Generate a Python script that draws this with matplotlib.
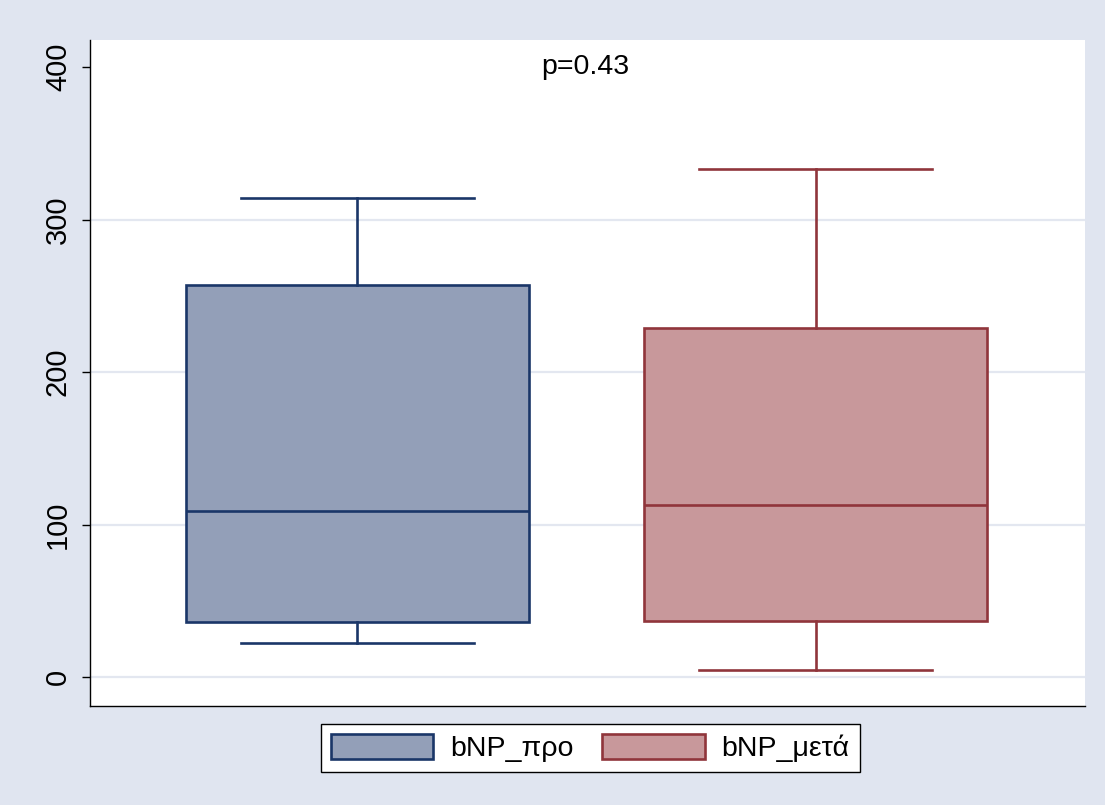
import matplotlib
matplotlib.use("Agg")
import matplotlib.pyplot as plt
from matplotlib.patches import Patch

plt.rcParams['font.family'] = ['Liberation Sans', 'DejaVu Sans']

# box statistics
labels = ["bNP_προ", "bNP_μετά"]
whislo = [22, 4.5]
q1 = [36, 37]
med = [109, 113]
q3 = [257, 229]
whishi = [314, 333]
p_text = "p=0.43"

fills = ["#939fb8", "#c8989b"]
edges = ["#1a3668", "#90353b"]
bg = "#e0e5f0"
lw = 1.9

fig = plt.figure(figsize=(11.05, 8.05), dpi=100, facecolor=bg)
ax = fig.add_axes([0.0814, 0.123, 0.9005, 0.8273])
ax.set_facecolor("white")

for i in range(len(labels)):
    st = dict(label=labels[i], whislo=whislo[i], q1=q1[i], med=med[i],
              q3=q3[i], whishi=whishi[i], fliers=[])
    ax.bxp([st], positions=[i + 1], widths=0.749, capwidths=0.507,
           showfliers=False, patch_artist=True,
           boxprops=dict(facecolor=fills[i], edgecolor=edges[i], linewidth=lw),
           medianprops=dict(color=edges[i], linewidth=lw),
           whiskerprops=dict(color=edges[i], linewidth=lw),
           capprops=dict(color=edges[i], linewidth=lw), zorder=3)

ax.set_xlim(0.416, 2.588)
ax.set_ylim(-19, 417.7)
ax.set_xticks([])
ax.set_yticks([0, 100, 200, 300, 400])
ax.tick_params(axis="y", labelsize=21, length=6, width=1, pad=7,
               labelrotation=90, color="black")
for t in ax.get_yticklabels():
    t.set_va("center")
for y in [0, 100, 200, 300]:
    ax.axhline(y, color="#e3e7f0", linewidth=1.6, zorder=1)

for s in ["top", "right"]:
    ax.spines[s].set_visible(False)
for s in ["left", "bottom"]:
    ax.spines[s].set_linewidth(1)

ax.text(1.497, 400, p_text, ha="center", va="center", fontsize=20.5)

handles = [Patch(facecolor=fills[i], edgecolor=edges[i], linewidth=lw)
           for i in range(len(labels))]
fig.legend(handles, labels, loc="center", bbox_to_anchor=(0.534, 0.0705),
           ncol=2, fontsize=20.5, frameon=True, fancybox=False,
           edgecolor="black", framealpha=1, handlelength=3.6,
           handleheight=1.0, handletextpad=0.6, columnspacing=1.0,
           borderpad=0.35).get_frame().set_linewidth(1)

fig.savefig("out.png", dpi=100, facecolor=bg)
